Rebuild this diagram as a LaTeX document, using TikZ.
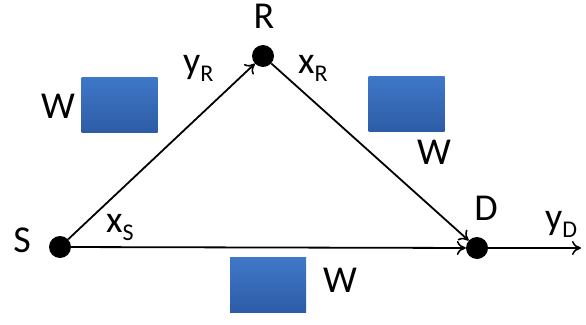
\documentclass[tikz,border=0pt]{standalone}
\usepackage{fontspec}
\setmainfont{Carlito}
\usetikzlibrary{arrows.meta}
\newcommand\mysub[1]{\raisebox{-0.22em}{\fontsize{24}{26}\selectfont #1}}
\begin{document}
\begin{tikzpicture}[x=1pt,y=-1pt,
  dot/.style={circle,fill=black,minimum size=22pt,inner sep=0pt},
  lbl/.style={font=\fontsize{38}{42}\selectfont,inner sep=0pt},
  wbox/.style={draw=none,minimum width=76pt,minimum height=55pt,inner sep=0pt},
  conn/.style={line width=1.8pt,-{To[length=9pt,width=14pt,line width=1.6pt]}}]
\useasboundingbox (0,0) rectangle (586,324);
\definecolor{boxtop}{HTML}{3F78C8}
\definecolor{boxbot}{HTML}{2D5CA6}
\node[dot] (S) at (60,247) {};
\node[dot] (R) at (263,56) {};
\node[dot] (D) at (477,248) {};
\coordinate (out) at (581,248);
\draw[conn] (S) -- (R);
\draw[conn] (R) -- (D);
\draw[conn] (S) -- (D);
\draw[conn] (D) -- (out);
\node[wbox,top color=boxtop,bottom color=boxbot] (b1) at (119.5,104.5) {};
\node[wbox,top color=boxtop,bottom color=boxbot] (b2) at (406.5,103.5) {};
\node[wbox,top color=boxtop,bottom color=boxbot] (b3) at (268,285) {};
\node[lbl] (lR) at (264,16) {R};
\node[lbl] (lS) at (22,240) {S};
\node[lbl] (lD) at (486,208) {D};
\node[lbl] (w1) at (58,106) {W};
\node[lbl] (w2) at (434,152) {W};
\node[lbl] (w3) at (340,280) {W};
\node[lbl,anchor=base west] (yR) at (183,73) {y\mysub{R}};
\node[lbl,anchor=base west] (xR) at (298,73) {x\mysub{R}};
\node[lbl,anchor=base west] (xS) at (106,232) {x\mysub{S}};
\node[lbl,anchor=base west] (yD) at (545,229) {y\mysub{D}};
\end{tikzpicture}
\end{document}
